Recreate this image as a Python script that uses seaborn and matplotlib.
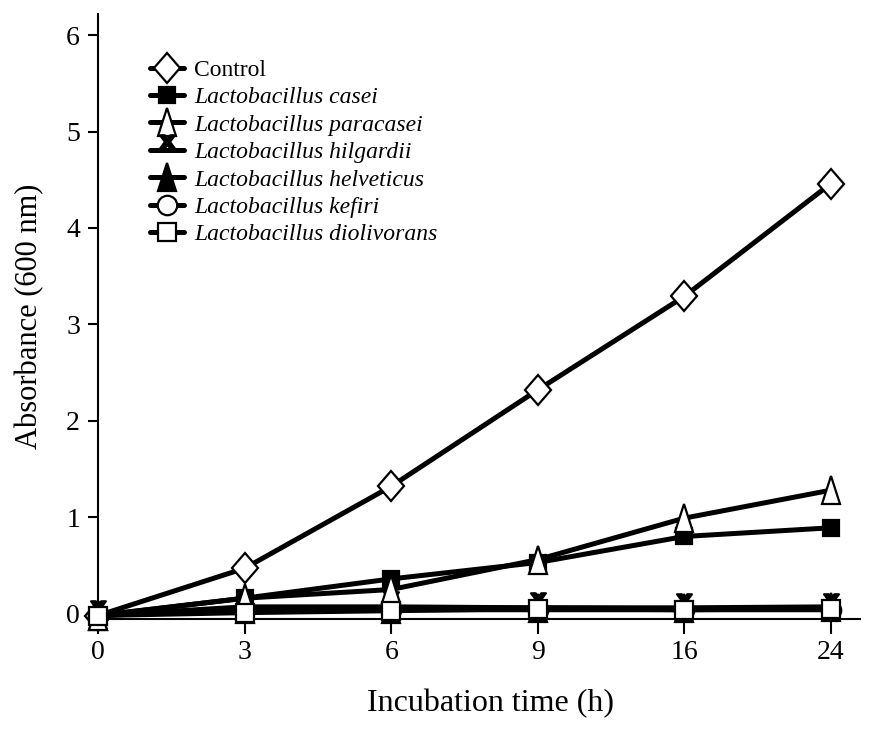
import matplotlib
matplotlib.use("Agg")
import matplotlib.pyplot as plt
import seaborn as sns
import numpy as np
from matplotlib.legend_handler import HandlerLine2D
from matplotlib.markers import MarkerStyle
from matplotlib.transforms import Affine2D

# ---- data ----
time_labels = ["0", "3", "6", "9", "16", "24"]
control = [-0.02, 0.47, 1.32, 2.32, 3.29, 4.46]
casei = [-0.02, 0.16, 0.36, 0.53, 0.80, 0.89]
paracasei = [-0.02, 0.16, 0.25, 0.56, 0.99, 1.28]
hilgardii = [-0.02, 0.07, 0.07, 0.06, 0.05, 0.05]
helveticus = [-0.02, 0.05, 0.05, 0.06, 0.06, 0.07]
kefiri = [-0.02, 0.04, 0.04, 0.04, 0.04, 0.04]
diolivorans = [-0.02, 0.01, 0.03, 0.05, 0.04, 0.05]

series_names = ["Control", "Lactobacillus casei", "Lactobacillus paracasei",
                "Lactobacillus hilgardii", "Lactobacillus helveticus",
                "Lactobacillus kefiri", "Lactobacillus diolivorans"]
series_values = [control, casei, paracasei, hilgardii, helveticus, kefiri, diolivorans]

x_marker = MarkerStyle(r"$\mathbf{x}$", transform=Affine2D().translate(0, 0.55))
diamond = MarkerStyle("D", transform=Affine2D().scale(0.88, 1.05))
tri = MarkerStyle("^", transform=Affine2D().scale(0.8, 1.15))
styles = [
    dict(marker=diamond, mfc="white", ms=15, z=2),
    dict(marker="s", mfc="black", ms=11, z=3),
    dict(marker=tri, mfc="white", ms=17, z=8),
    dict(marker=x_marker, mfc="black", ms=11, z=4),
    dict(marker=tri, mfc="black", ms=17, z=5),
    dict(marker="o", mfc="white", ms=14, z=6),
    dict(marker="s", mfc="white", ms=13, z=9),
]

sns.set_style("ticks")
plt.rcParams["font.family"] = ["Liberation Serif", "DejaVu Serif"]
plt.rcParams["text.color"] = "black"
plt.rcParams["axes.labelcolor"] = "black"
plt.rcParams["xtick.color"] = "black"
plt.rcParams["ytick.color"] = "black"

fig = plt.figure(figsize=(8.84, 7.33), dpi=100)
ax = fig.add_axes([0.111, 0.155, 0.862, 0.826])

xpos = np.arange(len(time_labels))
for name, vals, st in zip(series_names, series_values, styles):
    sns.lineplot(x=xpos, y=vals, ax=ax, color="black", linewidth=3.6,
                 marker=st["marker"], markersize=st["ms"],
                 markerfacecolor=st["mfc"], markeredgecolor="black",
                 markeredgewidth=1.6, label=name, clip_on=False, zorder=st["z"])

ax.set_xlim(0, 5.2)
ax.set_ylim(-0.06, 6.22)
ax.set_xticks(xpos)
ax.set_xticklabels(time_labels)
ax.set_yticks(range(0, 7))
for s in ["top", "right"]:
    ax.spines[s].set_visible(False)
for s in ["left", "bottom"]:
    ax.spines[s].set_linewidth(1.5)
    ax.spines[s].set_color("black")
ax.tick_params(axis="x", direction="out", length=11, width=1.5, labelsize=20, pad=4, colors="black")
ax.tick_params(axis="y", direction="out", length=7, width=1.5, labelsize=20, pad=6, colors="black")
ax.set_xlabel("Incubation time (h)", fontsize=23, labelpad=10, color="black")
ax.set_ylabel("Absorbance (600 nm)", fontsize=22, labelpad=16, color="black")
ax.xaxis.set_label_coords(0.515, -0.115)


class LeftMarker(HandlerLine2D):
    def get_xdata(self, legend, xdescent, ydescent, width, height, fontsize):
        xdata = np.array([-xdescent, -xdescent + width])
        xmark = np.array([-xdescent + 0.32 * width])
        return xdata, xmark


handles, labels = ax.get_legend_handles_labels()
leg = ax.legend(handles, labels, loc="upper left", bbox_to_anchor=(0.068, 0.925),
                frameon=False, fontsize=17, labelspacing=0.25, handlelength=1.45,
                handletextpad=0.42, borderaxespad=0, borderpad=0,
                handler_map={h: LeftMarker(numpoints=1) for h in handles})
for i, t in enumerate(leg.get_texts()):
    t.set_color("black")
    if i > 0:
        t.set_fontstyle("italic")

fig.savefig("out.png", dpi=100)
